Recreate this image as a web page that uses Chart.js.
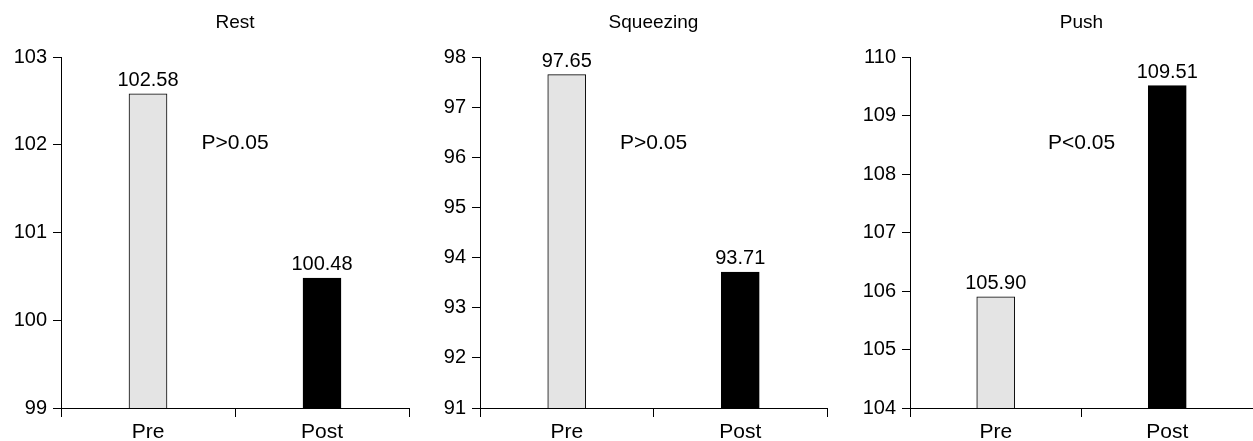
<!DOCTYPE html>
<html>
<head>
<meta charset="utf-8">
<script src="https://cdn.jsdelivr.net/npm/chart.js@4"></script>
<style>
  body { margin: 0; background: #fff; }
  .panel { position: absolute; top: 0; height: 441px; }
</style>
</head>
<body>
<div class="panel" style="left:0px"><canvas id="c0" width="420" height="441"></canvas></div>
<div class="panel" style="left:420px"><canvas id="c1" width="415" height="441"></canvas></div>
<div class="panel" style="left:835px"><canvas id="c2" width="418" height="441"></canvas></div>
<script>
// Data
const panelTitles = ["Rest", "Squeezing", "Push"];
const categories = ["Pre", "Post"];
const preValues = [102.58, 97.65, 105.90];
const postValues = [100.48, 93.71, 109.51];
const yMins = [99, 91, 104];
const yMaxs = [103, 98, 110];
const pLabels = ["P>0.05", "P>0.05", "P<0.05"];

// Layout per panel (y axis width, right padding)
const axisWidths = [61, 60, 75];
const rightPads = [11, 8, 0];

const FONT = "'Liberation Sans', Arial, sans-serif";

// Draws title, p-value text and value labels
const textPlugin = {
    id: "panelText",
    afterDatasetsDraw(chart, args, opts) {
        const ctx = chart.ctx;
        const area = chart.chartArea;
        const midX = (area.left + area.right) / 2;
        ctx.save();
        ctx.fillStyle = "#000";
        ctx.textAlign = "center";

        // title
        ctx.font = "19px " + FONT;
        ctx.textBaseline = "middle";
        ctx.fillText(opts.title, midX, 23);

        // p-value
        ctx.font = "21px " + FONT;
        ctx.fillText(opts.pText, midX, area.top + 0.245 * (area.bottom - area.top));

        // value labels
        ctx.font = "20px " + FONT;
        ctx.textBaseline = "alphabetic";
        const meta = chart.getDatasetMeta(0);
        meta.data.forEach((bar, i) => {
            const v = chart.data.datasets[0].data[i];
            ctx.fillText(v.toFixed(2), bar.x, bar.y - 8);
        });
        ctx.restore();
    }
};

function makePanel(idx) {
    const ctx = document.getElementById("c" + idx).getContext("2d");
    new Chart(ctx, {
        type: "bar",
        data: {
            labels: categories,
            datasets: [{
                data: [preValues[idx], postValues[idx]],
                backgroundColor: ["#e4e4e4", "#000000"],
                borderColor: "#000",
                borderWidth: 1,
                borderSkipped: false,
                barThickness: 38
            }]
        },
        options: {
            responsive: false,
            animation: false,
            devicePixelRatio: 1,
            layout: { padding: { top: 57, right: rightPads[idx], left: 0, bottom: 0 } },
            plugins: {
                legend: { display: false },
                tooltip: { enabled: false },
                panelText: { title: panelTitles[idx], pText: pLabels[idx] }
            },
            scales: {
                x: {
                    grid: { offset: true, drawOnChartArea: false, drawTicks: true, tickLength: 9, color: "#000", lineWidth: 1 },
                    border: { display: true, color: "#000", width: 1 },
                    ticks: { color: "#000", font: { family: FONT, size: 21 }, padding: 3 },
                    afterFit: s => { s.height = 33; }
                },
                y: {
                    min: yMins[idx],
                    max: yMaxs[idx],
                    grid: { drawOnChartArea: false, drawTicks: true, tickLength: 8, color: "#000", lineWidth: 1 },
                    border: { display: true, color: "#000", width: 1 },
                    ticks: { stepSize: 1, color: "#000", font: { family: FONT, size: 20 }, padding: 6 },
                    afterFit: s => { s.width = axisWidths[idx]; }
                }
            }
        },
        plugins: [textPlugin]
    });
}

[0, 1, 2].forEach(makePanel);
</script>
</body>
</html>
